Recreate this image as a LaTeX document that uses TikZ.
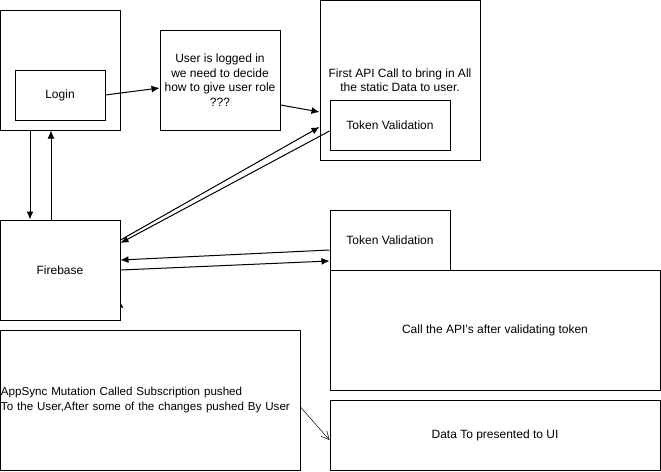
\documentclass[tikz,border=0pt]{standalone}
\usepackage{fontspec}
\setmainfont{Liberation Sans}
\usetikzlibrary{arrows.meta, calc}
\tikzstyle{rect}=[rectangle, draw, line width=1pt, inner sep=2pt, align=center, fill=white, font=\fontsize{12}{14.5}\selectfont]
\tikzstyle{link}=[line width=1pt, -{Latex[length=8pt,width=7pt]}]
\newcommand{\rect}{\node[rect]}

\begin{document}
\begin{tikzpicture}[x=1pt, y=-1pt]
\useasboundingbox (0,0) rectangle (661,471);
\rect (frame) at (60,70)[minimum width=120pt, minimum height=120pt]{};
\rect (login) at (60,95)[minimum width=90pt, minimum height=50pt]{Login};
\rect (user) at (220,80)[minimum width=120pt, minimum height=100pt]{User is logged in\\we need to decide\\how to give user role\\???};
\rect (api) at (400,80)[minimum width=160pt, minimum height=160pt]{First API Call to bring in All\\the static Data to user.};
\rect (tok1) at (390,125)[minimum width=120pt, minimum height=50pt]{Token Validation};
\rect (firebase) at (60,270)[minimum width=120pt, minimum height=100pt]{Firebase};
\rect (tok2) at (390,240)[minimum width=120pt, minimum height=60pt]{Token Validation};
\rect (callapi) at (495,330)[minimum width=330pt, minimum height=120pt]{Call the API's after validating token};
\rect (appsync) at (150,400)[minimum width=300pt, minimum height=140pt, inner xsep=1pt, text width=298pt, align=left, font=\fontsize{11.6}{15}\selectfont]{AppSync Mutation Called Subscription pushed\\To the User,After some of the changes pushed By User};
\rect (dataui) at (495,435)[minimum width=330pt, minimum height=70pt]{Data To presented to UI};
\draw[link] (login.east)--($(user.west)+(0,8)$);
\draw[link] ([yshift=-25pt]user.east)--([yshift=-32pt]api.west);
\draw[link] ([xshift=-30pt]frame.south)--([xshift=-30pt]firebase.north);
\draw[link] ([xshift=-9pt]firebase.north)--([xshift=-9pt]frame.south);
\draw[link] ([yshift=30pt]firebase.east)--([yshift=-47pt]api.west);
\draw[link] ([yshift=-6pt]tok1.west)--([yshift=27pt]firebase.east);
\draw[link] ([yshift=-10pt]tok2.west)--([yshift=10pt]firebase.east);
\draw[link] (firebase.east)--([yshift=-21pt]tok2.west);
\draw[line width=0.5pt, -{Straight Barb[length=8pt,width=8pt]}] ([yshift=-7pt]appsync.east)--([yshift=-5pt]dataui.west);
\fill (120,302)--(123.5,308)--(120,307)--cycle;
\end{tikzpicture}
\end{document}
